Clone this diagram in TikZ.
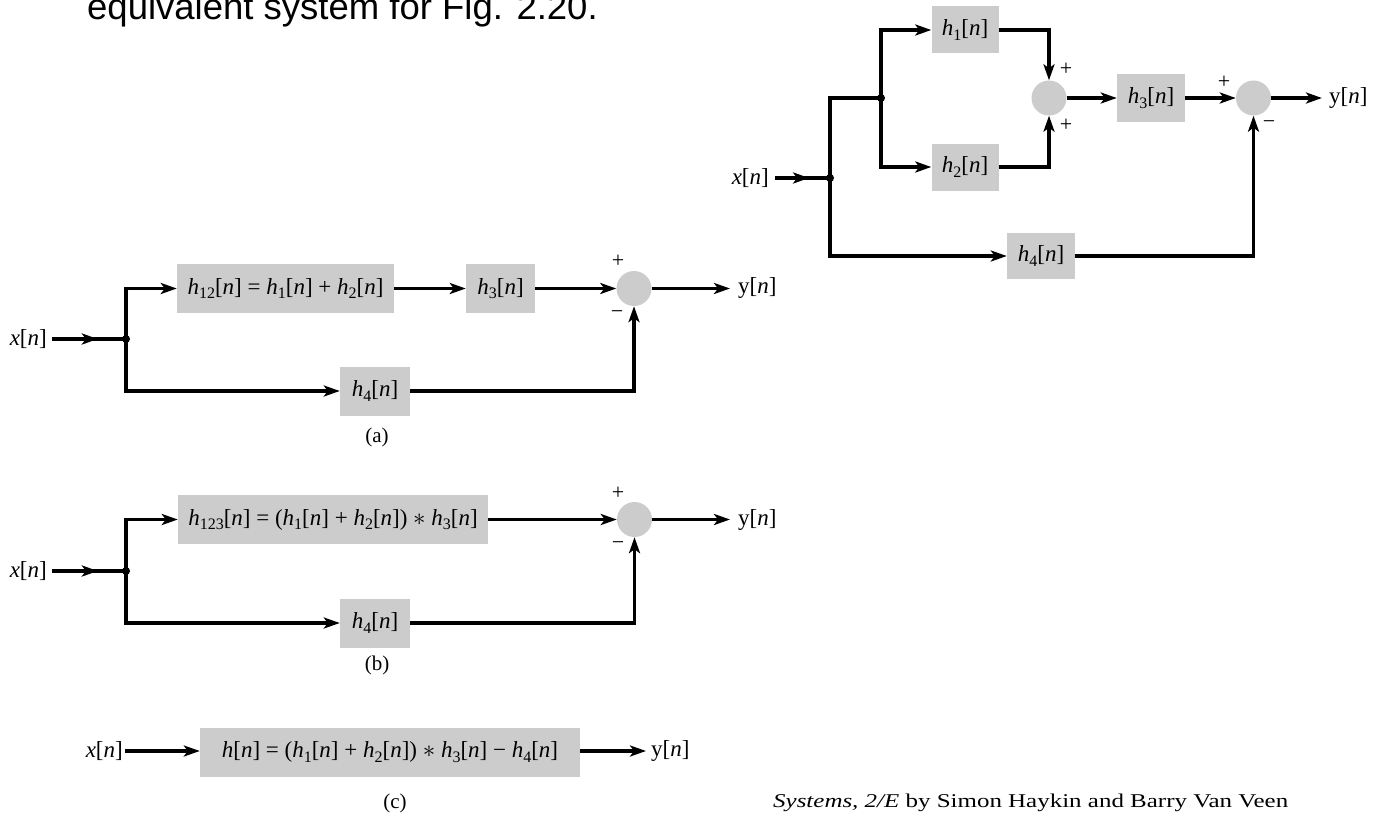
\documentclass[tikz,border=0pt]{standalone}
\usepackage{graphicx}
\usepackage{fontspec}
\setmainfont{Liberation Serif}
\newfontfamily\headfont{Liberation Sans}
\usetikzlibrary{arrows.meta,decorations.markings}
\definecolor{boxgray}{RGB}{204,204,204}
\newcommand\labfont{\fontsize{23}{27}\selectfont}
\newcommand\mysub[1]{\raisebox{-4.5pt}{\fontsize{16}{16}\selectfont #1}}
\newcommand\hh[1]{\textit{h}\mysub{#1}[\textit{n}]}
\newcommand\xsig{\textit{x}[\textit{n}]}
\newcommand\ysig{y[\textit{n}]}
\newcommand\conv{$\ast$}
\begin{document}
\begin{tikzpicture}[x=1pt,y=-1pt,
  wire/.style={line width=3.2pt},
  arr/.style={wire,-{Stealth[length=16pt,width=11pt,inset=4pt]}},
  midarrow/.style={wire,postaction={decorate},decoration={markings,mark=at position 0.62 with {\arrow{Stealth[length=16pt,width=11pt,inset=4pt]}}}},
  block/.style={fill=boxgray,inner sep=0pt,font=\labfont},
  sumc/.style={circle,fill=boxgray,inner sep=0pt,minimum size=35pt},
  jdot/.style={circle,fill=black,inner sep=0pt,minimum size=8pt},
  lab/.style={font=\labfont,inner ysep=1pt},
  sign/.style={font=\fontsize{22}{22}\selectfont,inner sep=0pt},
  capt/.style={font=\fontsize{21}{25}\selectfont,inner sep=0pt}]
\useasboundingbox (0,0) rectangle (1379,816);
\fill[white] (0,0) rectangle (1379,816);
\clip (0,0) rectangle (1379,816);

% heading
\node[anchor=base west,inner sep=0pt,font=\headfont\fontsize{36.5}{40}\selectfont] (head) at (87,20) {equivalent system for Fig. 2.20.};

% ---------- top-right original system ----------
\node[lab,anchor=east,inner xsep=6pt] (xin) at (775,178) {\xsig};
\node[jdot] (j1) at (830,178) {};
\node[jdot] (j2) at (881,98) {};
\node[block,minimum width=67pt,minimum height=47pt] (h1) at (965,30) {\hh{1}};
\node[block,minimum width=67pt,minimum height=47pt] (h2) at (965,167) {\hh{2}};
\node[sumc] (c1) at (1049,98) {};
\node[block,minimum width=68pt,minimum height=47pt] (h3) at (1151,98) {\hh{3}};
\node[sumc] (c2) at (1253.5,98) {};
\node[lab,anchor=west,inner xsep=7pt] (yout) at (1322,98) {\ysig};
\node[block,minimum width=68pt,minimum height=46pt] (h4) at (1041,256) {\hh{4}};
\node[sign] (p1) at (1066,69) {+};
\node[sign] (p2) at (1066,125) {+};
\node[sign] (p3) at (1224,82) {+};
\node[sign] (m1) at (1269,125) {−};

\draw[midarrow] (xin.east) -- (j1.center);
\draw[wire] (j1.center) |- (j2.center);
\draw[arr] (j2.center) |- (h1.west);
\draw[arr] (j2.center) |- (h2.west);
\draw[arr] (h1.east) -| (c1.north);
\draw[arr] (h2.east) -| (c1.south);
\draw[arr] (c1.east) -- (h3.west);
\draw[arr] (h3.east) -- (c2.west);
\draw[arr] (c2.east) -- (yout.west);
\draw[arr] (j1.center) |- (h4.west);
\draw[arr] (h4.east) -| (c2.south);

% ---------- (a) ----------
\node[lab,anchor=east,inner xsep=5pt] (xa) at (52,339) {\xsig};
\node[jdot] (ja) at (126,339) {};
\node[block,minimum width=217pt,minimum height=49pt] (h12) at (285.5,288.5) {\hh{12} = \hh{1} + \hh{2}};
\node[block,minimum width=69pt,minimum height=49pt] (h3a) at (500.5,288.5) {\hh{3}};
\node[sumc] (ca) at (634,288.5) {};
\node[lab,anchor=west,inner xsep=8pt] (ya) at (730,288.5) {\ysig};
\node[block,minimum width=70pt,minimum height=49pt] (h4a) at (375,391) {\hh{4}};
\node[sign] (pa) at (618,261) {+};
\node[sign] (ma) at (617,315) {−};
\node[capt] (capa) at (377,437) {(a)};

\draw[midarrow] (xa.east) -- (ja.center);
\draw[arr] (ja.center) |- (h12.west);
\draw[arr] (h12.east) -- (h3a.west);
\draw[arr] (h3a.east) -- (ca.west);
\draw[arr] (ca.east) -- (ya.west);
\draw[arr] (ja.center) |- (h4a.west);
\draw[arr] (h4a.east) -| (ca.south);

% ---------- (b) ----------
\node[lab,anchor=east,inner xsep=5pt] (xb) at (52,571) {\xsig};
\node[jdot] (jb) at (126,571) {};
\node[block,minimum width=310pt,minimum height=49pt] (h123) at (333,519.5) {\hh{123} = (\hh{1} + \hh{2}) \conv{} \hh{3}};
\node[sumc] (cb) at (634.5,519.5) {};
\node[lab,anchor=west,inner xsep=8pt] (yb) at (730,519.5) {\ysig};
\node[block,minimum width=70pt,minimum height=49pt] (h4b) at (375,623) {\hh{4}};
\node[sign] (pb) at (618,493) {+};
\node[sign] (mb) at (618,546) {−};
\node[capt] (capb) at (377,665) {(b)};

\draw[midarrow] (xb.east) -- (jb.center);
\draw[arr] (jb.center) |- (h123.west);
\draw[arr] (h123.east) -- (cb.west);
\draw[arr] (cb.east) -- (yb.west);
\draw[arr] (jb.center) |- (h4b.west);
\draw[arr] (h4b.east) -| (cb.south);

% ---------- (c) ----------
\node[lab,anchor=east,inner xsep=2pt] (xc) at (125,751) {\xsig};
\node[block,minimum width=380pt,minimum height=49pt] (hc) at (390,752) {\textit{h}[\textit{n}] = (\hh{1} + \hh{2}) \conv{} \hh{3} − \hh{4}};
\node[lab,anchor=west,inner xsep=5pt] (yc) at (646,751) {\ysig};
\node[capt] (capc) at (395,803) {(c)};
\draw[arr] (xc.east) -- (xc.east -| hc.west);
\draw[arr] (hc.east |- yc.west) -- (yc.west);

% footer
\node[anchor=base west,inner sep=0pt,font=\fontsize{19.5}{22}\selectfont] (foot) at (773,807) {\scalebox{1.28}[1]{\textit{Systems, 2/E} by Simon Haykin and Barry Van Veen}};
\end{tikzpicture}
\end{document}
